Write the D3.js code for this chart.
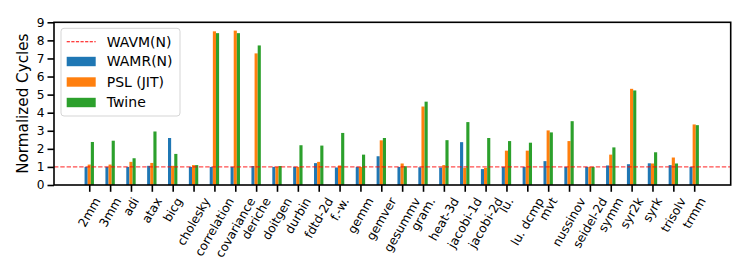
<!DOCTYPE html>
<html lang="en">
<head>
    <meta charset="UTF-8">
    <title>Normalized Cycles</title>
    <script src="https://d3js.org/d3.v7.min.js"></script>
    <style>
        body { margin: 0; background: #fff; }
        svg { display: block; font-family: "DejaVu Sans", sans-serif; }
    </style>
</head>
<body>
    <div id="container"></div>
    <script>
        // data
        const categories = ['2mm','3mm','adi','atax','bicg','cholesky','correlation','covariance','deriche','doitgen',
            'durbin','fdtd-2d','f.-w.','gemm','gemver','gesummv','gram.','heat-3d','jacobi-1d','jacobi-2d',
            'lu.','lu. dcmp','mvt','nussinov','seidel-2d','symm','syr2k','syrk','trisolv','trmm'];
        const wamr  = [1.0,1.0,1.0,1.06,2.6,1.0,1.0,1.0,1.05,1.0,1.0,1.21,0.97,1.0,1.59,1.0,0.98,0.97,2.37,0.88,
                       1.0,1.0,1.32,1.0,1.0,1.08,1.15,1.2,1.1,1.0];
        const psl   = [1.13,1.13,1.28,1.22,1.06,1.1,8.5,8.54,7.28,1.0,1.0,1.28,1.08,1.0,2.47,1.19,4.34,1.1,0.95,0.95,
                       1.9,1.9,3.02,2.43,1.0,1.68,5.32,1.19,1.52,3.35];
        const twine = [2.38,2.45,1.48,2.96,1.72,1.1,8.4,8.4,7.72,1.05,2.2,2.18,2.88,1.68,2.6,1.04,4.61,2.48,3.48,2.6,
                       2.43,2.34,2.91,3.53,1.0,2.08,5.23,1.81,1.19,3.31];
        const yTicks = [0,1,2,3,4,5,6,7,8,9];
        const baseline = 1;

        const series = [
            {name: 'WAMR(N)', values: wamr, color: '#1f77b4', offset: -1},
            {name: 'PSL (JIT)', values: psl, color: '#ff7f0e', offset: 0},
            {name: 'Twine', values: twine, color: '#2ca02c', offset: 1}
        ];

        const W = 747, H = 280;
        const plotLeft = 54, plotRight = 730.7, plotTop = 22.3, plotBottom = 185;
        const barW = 0.15;

        const svg = d3.select('#container').append('svg')
            .attr('width', W).attr('height', H);

        const x = d3.scaleLinear().domain([-1.69, 30.75]).range([plotLeft, plotRight]);
        const y = d3.scaleLinear().domain([0, 9]).range([plotBottom, plotTop]);

        // bars
        series.forEach(s => {
            svg.append('g').selectAll('rect')
                .data(s.values)
                .enter()
                .append('rect')
                .attr('x', (d, i) => x(i + s.offset * barW - barW / 2))
                .attr('width', x(barW) - x(0))
                .attr('y', d => y(d))
                .attr('height', d => y(0) - y(d))
                .attr('fill', s.color);
        });

        // WAVM baseline
        svg.append('line')
            .attr('x1', plotLeft).attr('x2', plotRight)
            .attr('y1', y(baseline)).attr('y2', y(baseline))
            .attr('stroke', '#ff0000')
            .attr('stroke-opacity', 0.7)
            .attr('stroke-width', 1.4)
            .attr('stroke-dasharray', '4.4,1.9');

        // y axis
        const yAxis = svg.append('g')
            .attr('transform', `translate(${plotLeft},0)`)
            .call(d3.axisLeft(y).tickValues(yTicks).tickSize(6.5).tickPadding(3));
        yAxis.attr('font-family', null);
        yAxis.select('.domain').remove();
        yAxis.selectAll('line').attr('stroke-width', 1.6);
        yAxis.selectAll('text').attr('font-size', 12.2).attr('fill', '#000');

        // x axis ticks
        const xAxis = svg.append('g')
            .attr('transform', `translate(0,${plotBottom})`)
            .call(d3.axisBottom(x).tickValues(d3.range(categories.length)).tickSize(6.8).tickFormat(''));
        xAxis.select('.domain').remove();
        xAxis.selectAll('line').attr('stroke-width', 1.6);

        // rotated category labels, bbox centred on tick
        const fs = 12.2, sin = Math.sin(Math.PI / 3), cos = Math.cos(Math.PI / 3);
        const labels = svg.append('g').selectAll('text')
            .data(categories)
            .enter()
            .append('text')
            .attr('font-size', fs)
            .attr('text-anchor', 'middle')
            .attr('dy', '0.35em')
            .text(d => d);
        labels.each(function(d, i) {
            const L = this.getComputedTextLength();
            const h = fs * 1.164;
            const bh = L * sin + h * cos;
            const cy = plotBottom + 6.8 + 3.2 + bh / 2;
            d3.select(this).attr('transform', `translate(${x(i)},${cy}) rotate(-60)`);
        });

        // frame
        svg.append('rect')
            .attr('x', plotLeft).attr('y', plotTop)
            .attr('width', plotRight - plotLeft).attr('height', plotBottom - plotTop)
            .attr('fill', 'none').attr('stroke', '#000').attr('stroke-width', 1.6);

        // y label
        svg.append('text')
            .attr('transform', `translate(28,${(plotTop + plotBottom) / 2}) rotate(-90)`)
            .attr('text-anchor', 'middle')
            .attr('font-size', 15.2)
            .text('Normalized Cycles');

        // legend
        const lg = svg.append('g');
        lg.append('rect')
            .attr('x', 61).attr('y', 28.3).attr('width', 119).attr('height', 87.7)
            .attr('rx', 3).attr('fill', '#fff').attr('fill-opacity', 0.85)
            .attr('stroke', '#d5d5d5').attr('stroke-width', 1);
        const rows = [41.7, 61.5, 82, 102.5];
        lg.append('line')
            .attr('x1', 66.7).attr('x2', 95.7).attr('y1', rows[0]).attr('y2', rows[0])
            .attr('stroke', '#ff0000').attr('stroke-width', 1.1).attr('stroke-dasharray', '3.2,1.4');
        lg.append('text').attr('x', 106.7).attr('y', rows[0]).attr('dy', '0.35em')
            .attr('font-size', 14).text('WAVM(N)');
        series.forEach((s, k) => {
            lg.append('rect')
                .attr('x', 66.7).attr('y', rows[k + 1] - 4.7)
                .attr('width', 29).attr('height', 9.4)
                .attr('fill', s.color);
            lg.append('text').attr('x', 106.7).attr('y', rows[k + 1]).attr('dy', '0.35em')
                .attr('font-size', 14).text(s.name);
        });
    </script>
</body>
</html>
